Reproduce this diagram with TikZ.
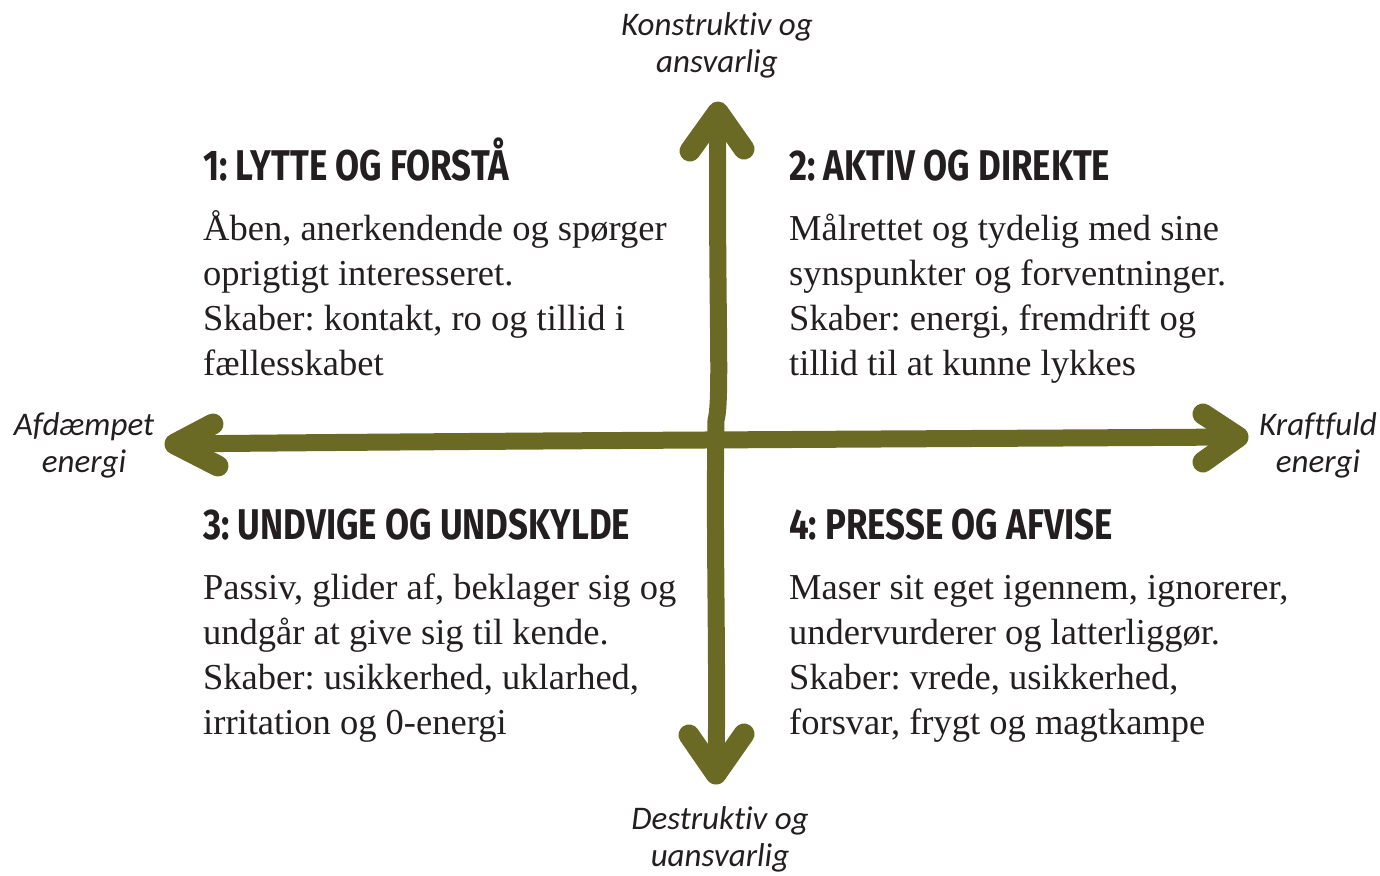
\documentclass[tikz,border=0pt]{standalone}
\usepackage{fontspec}
\setmainfont{Liberation Serif}
\newfontfamily\labelfont[Ligatures=NoCommon]{Carlito}
\newfontfamily\headfont[FakeStretch=0.81]{Fira Sans}
\definecolor{olivearrow}{HTML}{6A6A24}
\definecolor{inktext}{HTML}{231F20}
\frenchspacing
\tikzset{
  shaft/.style={draw=olivearrow, line width=17pt, line cap=round, line join=round},
  head/.style={draw=olivearrow, line width=21pt, line cap=round, line join=round},
  axislabel/.style={font=\labelfont\itshape\fontsize{33}{37}\selectfont, text=inktext, align=center, inner sep=0pt, anchor=base},
  heading/.style={font=\headfont\bfseries\fontsize{43}{48}\selectfont, text=inktext, anchor=base west, inner sep=0pt},
  body/.style={font=\frenchspacing\fontsize{36.5}{45}\selectfont, text=inktext, anchor=base west, inner sep=0pt, align=left},
}
\begin{document}
\begin{tikzpicture}[x=1pt,y=-1pt]
\useasboundingbox (0,0) rectangle (1380,875);
% axis end points
\coordinate (L) at (175,444);
\coordinate (R) at (1238,437);
\coordinate (T) at (718,112);
\coordinate (B) at (716,774);
\coordinate (Lu) at (213,424);
\coordinate (Ld) at (218,466);
\coordinate (Ru) at (1203,414);
\coordinate (Rd) at (1203,462);
\coordinate (Tl) at (690,151);
\coordinate (Tr) at (744,149);
\coordinate (Bl) at (689,735);
\coordinate (Br) at (744,734);
% shafts
\draw[shaft] (L) .. controls (450,441) and (900,439) .. (R);
\draw[shaft] (T) .. controls (716,300) and (722,400) .. (716,420) .. controls (714,550) and (718,650) .. (B);
% heads
\draw[head] (Lu) -- (L) -- (Ld);
\draw[head] (Ru) -- (R) -- (Rd);
\draw[head] (Tl) -- (T) -- (Tr);
\draw[head] (Bl) -- (B) -- (Br);
% axis labels (anchor = baseline of last line)
\node[axislabel] (top) at (717,73) {Konstruktiv og\\ansvarlig};
\node[axislabel] (left) at (84,472) {Afdæmpet\\energi};
\node[axislabel] (right) at (1318,472) {Kraftfuld\\energi};
\node[axislabel] (bottom) at (720,866) {Destruktiv og\\uansvarlig};
% headings
\node[heading] (h1) at (203,180) {1: LYTTE OG FORSTÅ};
\node[heading] (h2) at (789,180) {2: AKTIV OG DIREKTE};
\node[heading] (h3) at (203,539) {3: UNDVIGE OG UNDSKYLDE};
\node[heading] (h4) at (789,539) {4: PRESSE OG AFVISE};
% bodies (anchor = baseline of last line)
\node[body] (b1) at (203,375) {Åben, anerkendende og spørger\\oprigtigt interesseret.\\Skaber: kontakt, ro og tillid i\\fællesskabet};
\node[body] (b2) at (789,375) {Målrettet og tydelig med sine\\synspunkter og forventninger.\\Skaber: energi, fremdrift og\\tillid til at kunne lykkes};
\node[body] (b3) at (203,734) {Passiv, glider af, beklager sig og\\undgår at give sig til kende.\\Skaber: usikkerhed, uklarhed,\\irritation og 0-energi};
\node[body] (b4) at (789,734) {Maser sit eget igennem, ignorerer,\\undervurderer og latterliggør.\\Skaber: vrede, usikkerhed,\\forsvar, frygt og magtkampe};
\end{tikzpicture}
\end{document}
